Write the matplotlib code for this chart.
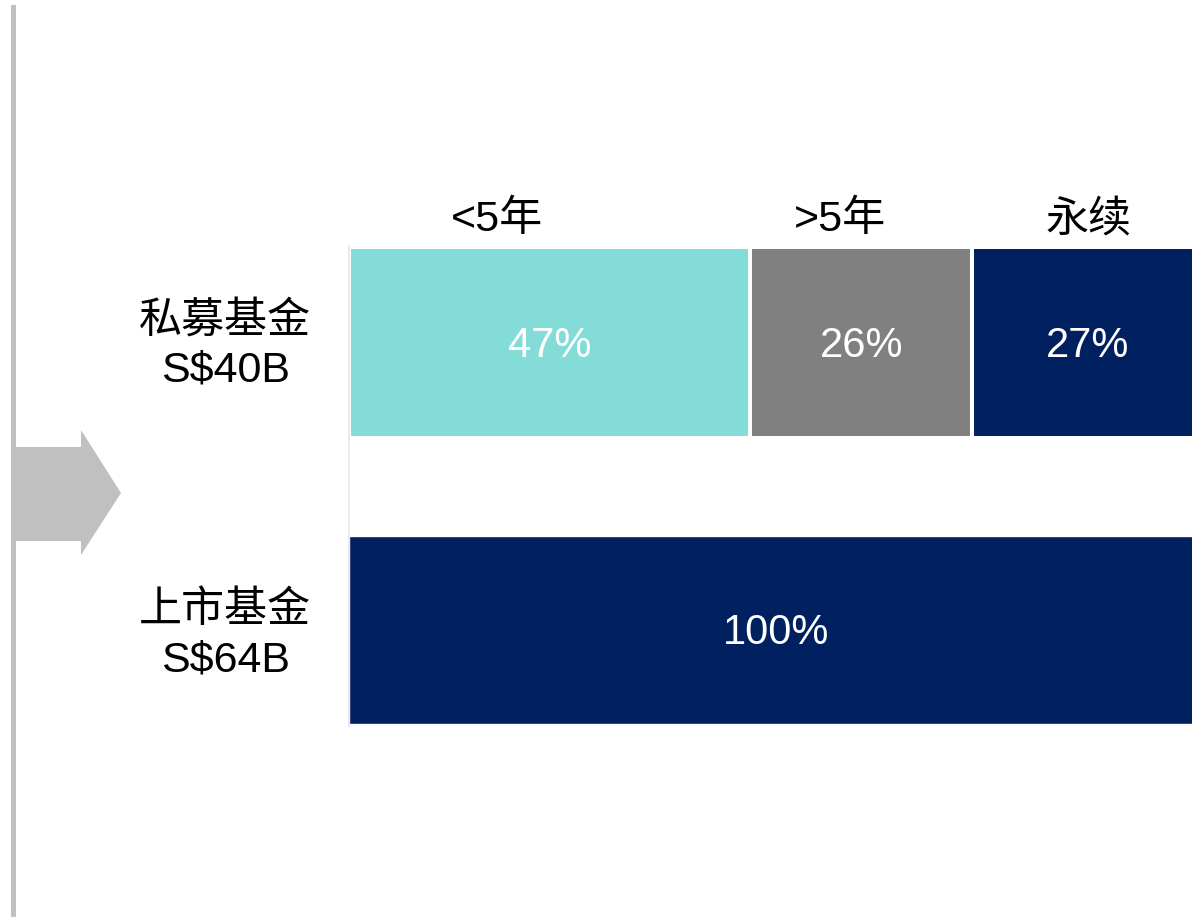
import matplotlib.pyplot as plt
from matplotlib.patches import Polygon
from matplotlib.lines import Line2D

plt.rcParams['font.family'] = ['Liberation Sans', 'Noto Sans CJK SC', 'DejaVu Sans']

# -----------------------------
# Data
# -----------------------------
funds = ['私募基金\nS$40B', '上市基金\nS$64B']
segments = ['<5年', '>5年', '永续']
private_shares = [47, 26, 27]
listed_shares = [100]
seg_colors = ['#84DCD8', '#808080', '#002060']

# -----------------------------
# Figure / axes layout (plot area runs a little past the right edge)
# -----------------------------
W, H = 1192, 917
fig = plt.figure(figsize=(W / 100, H / 100), dpi=100)
ax = fig.add_axes([349 / W, 1 - 726 / H, 854 / W, 480 / H])
ax.set_xlim(0, 100)
ax.set_ylim(1.335, -0.335)

bar_h = 0.665

# private fund stacked bar
left = 0
for share, color in zip(private_shares, seg_colors):
    ax.barh(0, share, left=left, height=bar_h, color=color, edgecolor='white', linewidth=2.9)
    ax.text(left + share / 2, 0.012, f"{share}%", ha='center', va='center', color='white', fontsize=30)
    left += share

# listed fund bar
ax.barh(1, listed_shares[0], left=0, height=bar_h - 0.01, color=seg_colors[2], edgecolor='white', linewidth=1)
ax.text(listed_shares[0] / 2, 1.012, f"{listed_shares[0]}%", ha='center', va='center', color='white', fontsize=30)

# segment headers
header_x = [17.3, 57.5, 86.6]
for label, x in zip(segments, header_x):
    ax.text(x, -0.425, label, ha='center', va='center', fontsize=31, clip_on=False)

# fund labels on the left
for i, label in enumerate(funds):
    ax.text(-14.5, i + 0.012 + 0.008 * i, label, ha='center', va='center', fontsize=31,
            linespacing=1.3, clip_on=False)

# axes cosmetics: only a faint left spine
for side in ['top', 'right', 'bottom']:
    ax.spines[side].set_visible(False)
ax.spines['left'].set_color('#e6e6e6')
ax.spines['left'].set_linewidth(1.2)
ax.set_xticks([])
ax.set_yticks([])

# -----------------------------
# Decorations: vertical rule and arrow
# -----------------------------
fig.add_artist(Line2D([12.5 / W, 12.5 / W], [1 - 7 / H, 0], color='#c0c0c0', linewidth=3.6))
arrow_pts = [(15, 447), (81, 447), (81, 430), (121, 493), (81, 555), (81, 541), (15, 541)]
fig.add_artist(Polygon([(x / W, 1 - y / H) for x, y in arrow_pts], closed=True,
                       facecolor='#c0c0c0', edgecolor='none', transform=fig.transFigure))

fig.savefig('out.png', dpi=100)
